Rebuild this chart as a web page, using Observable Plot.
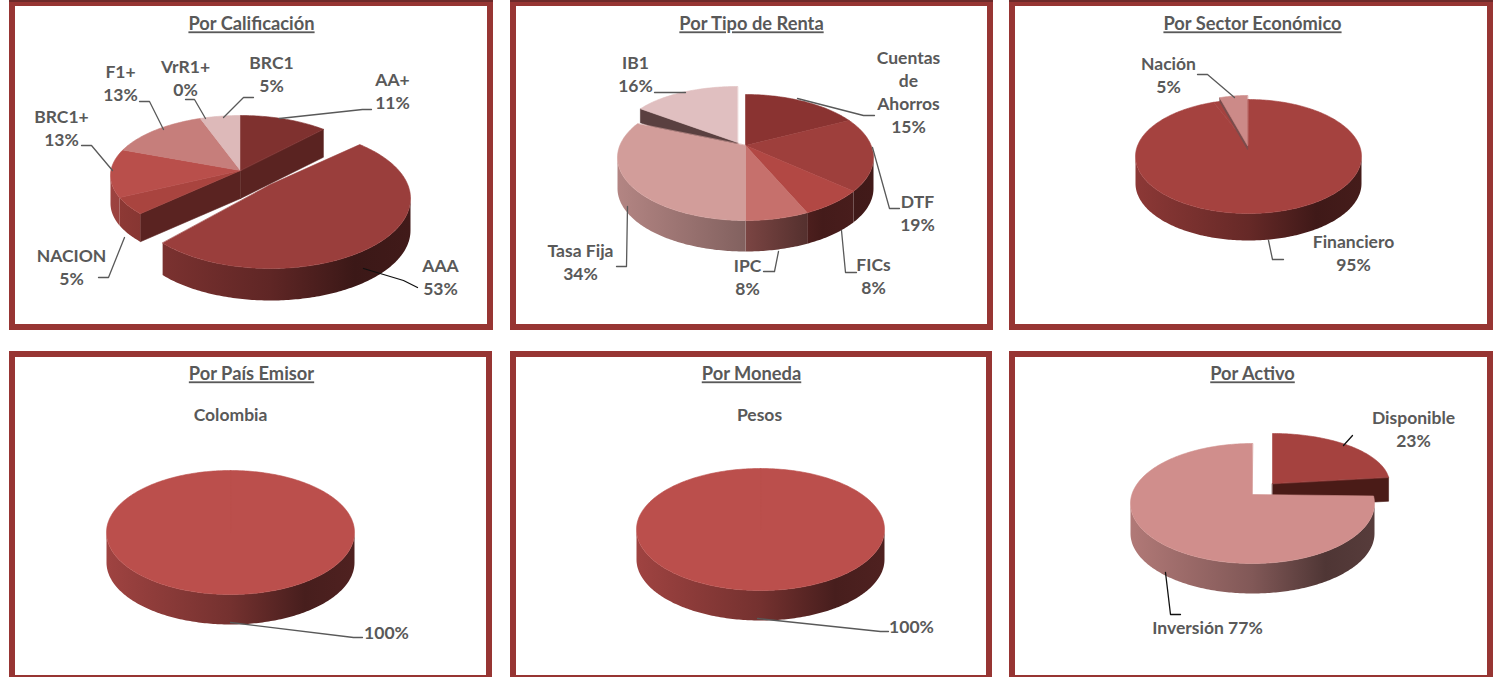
<!DOCTYPE html>
<html lang="es">
<head>
<meta charset="utf-8">
<title>Composición del portafolio</title>
<style>
  html, body { margin: 0; padding: 0; background: #fff; overflow: hidden; }
</style>
<script src="https://cdn.jsdelivr.net/npm/d3@7"></script>
<script src="https://cdn.jsdelivr.net/npm/@observablehq/plot@0.6"></script>
</head>
<body>
<div id="chart"></div>
<script>
// ---------- data ----------
const titles = ["Por Calificación", "Por Tipo de Renta", "Por Sector Económico", "Por País Emisor", "Por Moneda", "Por Activo"];

const calificacionNames = ["AA+", "AAA", "NACION", "BRC1+", "F1+", "VrR1+", "BRC1"];
const calificacionValues = [11, 53, 5, 13, 13, 0, 5];

const rentaNames = ["Cuentas\nde\nAhorros", "DTF", "FICs", "IPC", "Tasa Fija", "IB1"];
const rentaValues = [15, 19, 8, 8, 34, 16];

const sectorNames = ["Financiero", "Nación"];
const sectorValues = [95, 5];

const paisNames = ["Colombia"];
const paisValues = [100];

const monedaNames = ["Pesos"];
const monedaValues = [100];

const activoNames = ["Disponible", "Inversión"];
const activoValues = [23, 77];

// ---------- layout and style (pixel space of the page) ----------
const FRAME = "#973533", INK = "#595959", FONT = "Lato, Carlito, sans-serif";
const frames = [[12,490,3,327],[513,990,3,327],[1012,1490,3,327],[12,489,354,678],[513,989,354,678],[1012,1490,354,678]];
const topBands = [[9,493],[510,993],[1009,1493]];
const titleAt = [[251,24],[751,24],[1252,24],[251,374],[751,374],[1252,374]];

const pies = [
  { names: calificacionNames, values: calificacionValues,
    colors: ["#7f312f","#9a3e3c","#a9443f","#b94f4b","#c67e7b","#c67e7b","#ddb9b9"],
    groups: [
      { slices: [2,3,4,5,6,0], cx:240, cy:175, rx:130, ry:60, apex:-5, depth:28, cut:"#5a2321" },
      { slices: [1], cx:270, cy:198, rx:140, ry:70, apex:-14, depth:32, cut:"#5a2321" }
    ],
    labels: [[392,91.5],[440,277.5],[71,267.5],[61,128.5],[120,83.5],[185,78.5],[271,74.5]],
    leaders: [
      [[371,109],[362,109],[279,118]], [[417,287],[403,280],[363,268]], [[98,277],[108,277],[124,237]],
      [[81,145],[91,145],[112,170]], [[139,101],[149,101],[163,129]], [[185,99],[194,99],[205,118]], [[253,97],[243,97],[223,117]]
    ],
    black: [1] },
  { names: rentaNames, values: rentaValues,
    colors: ["#8a3331","#9e3f3c","#b24844","#c6706c","#d29d9a","#e0bfc0"],
    groups: [
      { slices: [5], cx:737, cy:134, rx:115, ry:48, apex:8, depth:14, cut:"#5a4040" },
      { slices: [0,1,2,3,4], cx:745, cy:157, rx:128, ry:63, apex:-12, depth:31, cut:"#5a2321" }
    ],
    labels: [[908,92.5],[917,213.5],[873,276.5],[747,277.5],[580,262.5],[635,74.5]],
    leaders: [
      [[874,115],[863,115],[797,98]], [[899,208],[889,208],[872,147]], [[856,272],[845,272],[841,230]],
      [[763,271],[774,271],[778,251]], [[616,266],[626,266],[627,206]], [[654,92],[685,92]]
    ] },
  { names: sectorNames, values: sectorValues,
    colors: ["#a5423f","#cc8a88"],
    groups: [
      { slices: [0], cx:1248, cy:156, rx:113, ry:57, apex:-11, depth:27, cut:"#5a2321", closeGap: true },
      { slices: [1], cx:1247, cy:140, rx:90, ry:45, apex:5, depth:4, cut:"#7a4c4c" }
    ],
    labels: [[1353,253.5],[1168,75.5]],
    leaders: [[[1283,259],[1272,259],[1268,240]], [[1197,74],[1207,74],[1234,97]]] },
  { names: paisNames, values: paisValues,
    colors: ["#bb4f4c"],
    groups: [{ slices: [0], cx:230, cy:532, rx:124, ry:62, apex:0, depth:30, cut:"#5a2321" }],
    labels: [[230,415]], valueLabels: [[386,633]],
    leaders: [[[362,637],[353,637],[230,622]]] },
  { names: monedaNames, values: monedaValues,
    colors: ["#bb4f4c"],
    groups: [{ slices: [0], cx:760, cy:529, rx:124, ry:61, apex:0, depth:30, cut:"#5a2321" }],
    labels: [[759,415]], valueLabels: [[911,627]],
    leaders: [[[888,631],[880,631],[757,618]]] },
  { names: activoNames, values: activoValues,
    colors: ["#a5423f","#d08e8c"],
    groups: [
      { slices: [0], cx:1272, cy:483, rx:117, ry:50, apex:0, depth:24, cut:"#4a1b17" },
      { slices: [1], cx:1252, cy:503, rx:122, ry:60, apex:-9, depth:30, cut:"#5a2321" }
    ],
    labels: [[1413,429.5],[1207,628]], inline: [1],
    leaders: [[[1352,435],[1343,445]], [[1180,614],[1170,614],[1165,572]]],
    black: [0,1] }
];

// ---------- geometry from values ----------
const rad = d => d * Math.PI / 180;
const rim = (g, a, dz = 0) => ({ x: g.cx + g.rx * Math.sin(rad(a)), y: g.cy - g.ry * Math.cos(rad(a)) + dz });
const arc = (g, a0, a1, dz = 0) => {
  const n = Math.max(1, Math.ceil(Math.abs(a1 - a0)));
  return d3.range(n + 1).map(i => rim(g, a0 + (a1 - a0) * i / n, dz));
};
const apexOf = (g, dz = 0) => ({ x: g.cx, y: g.cy + g.apex + dz });

const shade = (c, k) => { const r = d3.rgb(c); return d3.rgb(r.r * k, r.g * k, r.b * k).formatHex(); };
const wallStops = [[0,.85],[.5,.62],[.8,.38],[1,.42]];
const gradients = [];

const polygon = (pts, fill, strokeWidth = 0.6) =>
  Plot.line(pts, { x: "x", y: "y", fill, stroke: fill.startsWith("url") ? "none" : fill, strokeWidth, curve: "linear-closed" });

const marks = [];

// Gradient definitions used by the side walls
marks.push((index, { x }) => {
  const defs = d3.create("svg:defs");
  for (const g of gradients) {
    const lg = defs.append("linearGradient").attr("id", g.id).attr("gradientUnits", "userSpaceOnUse")
      .attr("x1", x(g.x1)).attr("x2", x(g.x2)).attr("y1", 0).attr("y2", 0);
    for (const [o, k] of wallStops) lg.append("stop").attr("offset", o).attr("stop-color", shade(g.color, k));
  }
  return defs.node();
});

marks.push(Plot.rect(frames, { x1: d => d[0], x2: d => d[1], y1: d => d[2], y2: d => d[3], fill: "white", stroke: FRAME, strokeWidth: 6 }));
marks.push(Plot.rect(topBands, { x1: d => d[0], x2: d => d[1], y1: () => 0, y2: () => 2, fill: "#6e2a2a" }));

pies.forEach((pie, p) => {
  const ends = d3.cumsum(pie.values);
  const span = i => [(ends[i] - pie.values[i]) * 3.6, ends[i] * 3.6];
  pie.groups.forEach((g, q) => {
    const first = span(g.slices[0])[0];
    const last = span(g.slices[g.slices.length - 1])[1] % 360;
    const whole = g.slices.length === pie.values.length;
    if (!whole || pie.values.length > 1) {
      if (last > 0 && last < 180) {
        marks.push(polygon([apexOf(g), rim(g, last), rim(g, last, g.depth), apexOf(g, g.depth)], g.cut));
      }
      if (first > 180 && first < 360) {
        marks.push(polygon([apexOf(g), rim(g, first), rim(g, first, g.depth), apexOf(g, g.depth)], g.cut));
      }
    }
    g.slices.forEach(i => {
      const [a0, a1] = span(i);
      const s = Math.max(a0, 90), e = Math.min(a1, 270);
      if (e > s) {
        const id = `wall-${p}-${q}-${i}`;
        gradients.push({ id, color: pie.colors[i], x1: g.cx - g.rx, x2: g.cx + g.rx });
        marks.push(polygon([...arc(g, s, e), ...arc(g, e, s, g.depth)], `url(#${id})`));
      }
    });
    g.slices.forEach(i => {
      const [a0, a1] = span(i);
      if (a1 > a0) marks.push(polygon([apexOf(g), ...arc(g, a0, a1)], pie.colors[i]));
      if (g.closeGap) marks.push(polygon([apexOf(g), ...arc(g, a1, 360)], pie.colors[i]));
    });
  });

  // leader lines
  pie.leaders.forEach((pts, i) => {
    marks.push(Plot.line(pts, { x: d => d[0], y: d => d[1], stroke: (pie.black || []).includes(i) ? "#111111" : INK, strokeWidth: 1.3 }));
  });

  // labels
  const rows = pie.names.flatMap((name, i) => {
    const pct = pie.values[i] + "%";
    if (pie.valueLabels) {
      return [
        { text: name, at: pie.labels[i] },
        { text: pct, at: pie.valueLabels[i] }
      ];
    }
    const inline = (pie.inline || []).includes(i);
    return [{ text: name + (inline ? " " : "\n") + pct, at: pie.labels[i] }];
  });
  marks.push(Plot.text(rows, {
    x: d => d.at[0], y: d => d.at[1], text: "text", dy: -1.5,
    fontFamily: FONT, fontSize: 17.5, fontWeight: 700, fill: INK, lineHeight: 23 / 17.5, lineAnchor: "middle"
  }));
});

// panel titles
marks.push(Plot.text(titles, {
  x: (d, i) => titleAt[i][0], y: (d, i) => titleAt[i][1], text: d => d,
  fontFamily: FONT, fontSize: 18.3, fontWeight: 700, fill: INK, lineAnchor: "middle",
  render(index, scales, values, dimensions, context, next) {
    const g = next(index, scales, values, dimensions, context);
    g.querySelectorAll("text").forEach(t => t.setAttribute("text-decoration", "underline"));
    return g;
  }
}));

const chart = Plot.plot({
  width: 1499, height: 677, margin: 0,
  style: { background: "white", fontFamily: FONT },
  x: { domain: [0, 1499], range: [0, 1499], axis: null },
  y: { domain: [0, 677], range: [0, 677], axis: null },
  marks
});
document.getElementById("chart").appendChild(chart);
</script>
</body>
</html>
